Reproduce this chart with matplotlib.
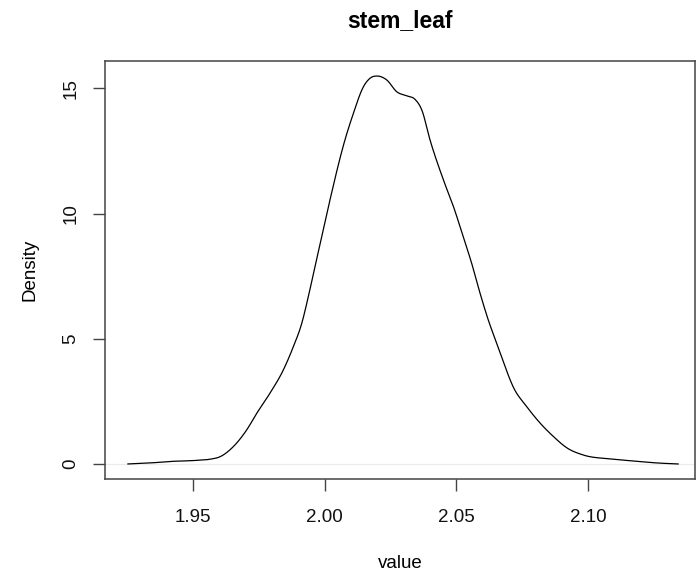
import matplotlib.pyplot as plt
import numpy as np

# density curve (value, density)
value = [1.9253, 1.9337, 1.9413, 1.9508, 1.9565, 1.9603, 1.9653, 1.9704, 1.9742,
         1.9792, 1.9843, 1.9881, 1.9913, 1.9938, 1.9963, 1.9989, 2.0020, 2.0077,
         2.0109, 2.0147, 2.0172, 2.0200, 2.0236, 2.0274, 2.0312, 2.0343, 2.0369,
         2.0400, 2.0451, 2.0489, 2.0526, 2.0558, 2.0590, 2.0621, 2.0653, 2.0685,
         2.0716, 2.0767, 2.0818, 2.0868, 2.0920, 2.0981, 2.1084, 2.1171, 2.1262,
         2.1342]
density = [0.01, 0.05, 0.11, 0.15, 0.20, 0.30, 0.70, 1.37, 2.03,
           2.83, 3.76, 4.69, 5.62, 6.69, 7.88, 9.08, 10.54, 12.94,
           14.00, 15.06, 15.40, 15.49, 15.33, 14.86, 14.70, 14.56, 14.13,
           12.94, 11.34, 10.28, 9.08, 8.02, 6.82, 5.76, 4.83, 3.89,
           3.08, 2.30, 1.64, 1.11, 0.65, 0.37, 0.21, 0.13, 0.05,
           0.01]

x_ticks = [1.95, 2.00, 2.05, 2.10]
x_ticklabels = ['1.95', '2.00', '2.05', '2.10']
y_ticks = [0, 5, 10, 15]

plt.rcParams['font.family'] = ['Liberation Sans', 'DejaVu Sans']

W, H = 696, 574
fig = plt.figure(figsize=(W / 100, H / 100), dpi=100)
left, right, top, bottom = 105, 695, 61, 479
ax = fig.add_axes([left / W, 1 - bottom / H, (right - left) / W, (bottom - top) / H])

# smooth curve through the read points (cubic hermite, finite-difference slopes)
xs = np.array(value)
ys = np.array(density)
xf = np.linspace(xs.min(), xs.max(), 800)
d = np.gradient(ys, xs)
idx = np.clip(np.searchsorted(xs, xf) - 1, 0, len(xs) - 2)
h = xs[idx + 1] - xs[idx]
t = (xf - xs[idx]) / h
h00 = 2 * t**3 - 3 * t**2 + 1
h10 = t**3 - 2 * t**2 + t
h01 = -2 * t**3 + 3 * t**2
h11 = t**3 - t**2
yf = h00 * ys[idx] + h10 * h * d[idx] + h01 * ys[idx + 1] + h11 * h * d[idx + 1]
yf = np.maximum(yf, 0.0)

ax.axhline(0, color='#ebebeb', lw=0.8, zorder=1)
ax.plot(xf, yf, color='black', lw=0.9, zorder=2)

ax.set_xlim(1.9166, 2.1406)
ax.set_ylim(-0.59, 16.09)

ax.set_xticks(x_ticks)
ax.set_xticklabels(x_ticklabels)
ax.set_yticks(y_ticks)
ax.set_yticklabels([str(v) for v in y_ticks], rotation=90, va='center')

for s in ax.spines.values():
    s.set_color('#444444')
    s.set_linewidth(1.1)

ax.tick_params(axis='both', direction='out', length=8.5, width=1.0, color='#444444',
               labelsize=13.5, labelcolor='#111111')
ax.tick_params(axis='x', pad=13)
ax.tick_params(axis='y', pad=10)

fig.text(400 / W, 1 - 21 / H, 'stem_leaf', ha='center', va='center',
         fontsize=16.5, fontweight='bold')
fig.text(400 / W, 1 - 563 / H, 'value', ha='center', va='center', fontsize=13.5)
fig.text(30 / W, 1 - 270 / H, 'Density', ha='center', va='center', fontsize=13.5,
         rotation=90)

fig.savefig('out.png', dpi=100)
